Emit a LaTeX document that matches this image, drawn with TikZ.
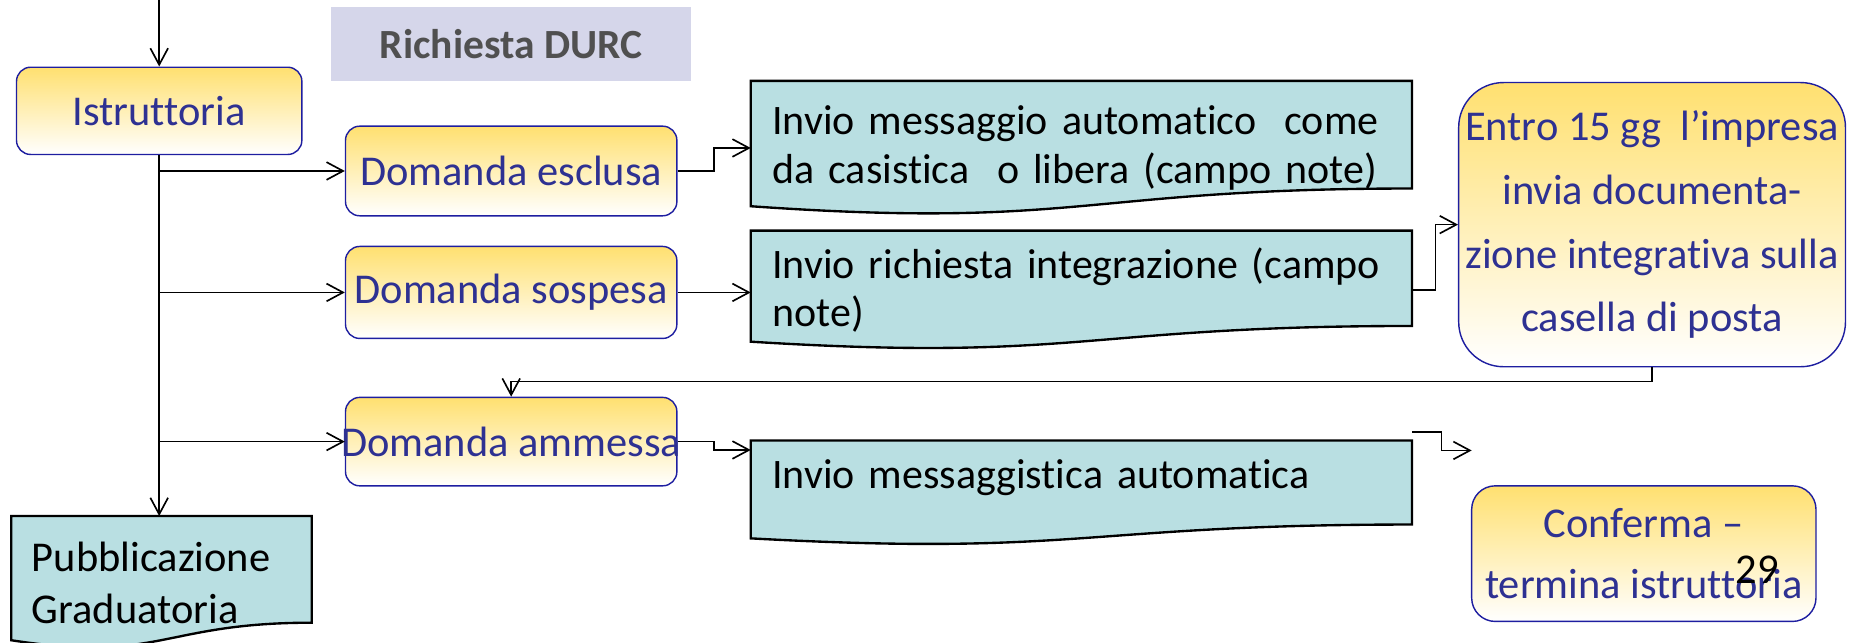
\documentclass[tikz,border=0pt]{standalone}
\usepackage{fontspec}
\setmainfont{Carlito}[Ligatures={NoCommon}]
\usetikzlibrary{arrows.meta,calc,backgrounds}
\definecolor{ytop}{RGB}{255,224,112}
\definecolor{bborder}{RGB}{30,30,160}
\definecolor{btext}{RGB}{46,49,146}
\definecolor{docfill}{RGB}{185,223,226}
\definecolor{lav}{RGB}{213,214,234}
\definecolor{gtext}{RGB}{80,80,80}
\begin{document}
\begin{tikzpicture}[x=0.5pt,y=-0.5pt,
  ybox/.style={draw=bborder, line width=0.6pt, top color=ytop, bottom color=white,
    rounded corners=6pt, text=btext, font=\fontsize{18}{22}\selectfont, align=center, inner sep=0pt},
  docnode/.style={inner xsep=9pt, inner ysep=0pt, align=left, font=\fontsize{17.8}{20.5}\selectfont},
  docshape/.style={draw=black, line width=1pt, fill=docfill},
  conn/.style={line width=0.7pt, draw=black},
  arr/.style={conn, -{Straight Barb[length=7pt,width=7.5pt]}},
]
\useasboundingbox (0,0) rectangle (1568,545);

% yellow process boxes
\node[ybox, minimum width=121pt, minimum height=37pt] (istr) at (135,94) {Istruttoria};
\node[fill=lav, minimum width=152.5pt, minimum height=31.5pt, inner sep=0pt, text=gtext,
  font=\bfseries\fontsize{17.6}{20}\selectfont] (durc) at (433.5,37.5) {Richiesta DURC};
\node[ybox, minimum width=140.5pt, minimum height=38pt] (esc) at (433.5,145) {Domanda esclusa};
\node[ybox, minimum width=140.5pt, minimum height=39pt] (sosp) at (433.5,248) {Domanda sospesa};
\node[ybox, minimum width=140.5pt, minimum height=37.5pt] (amm) at (433.5,374.5) {\makebox[130pt]{Domanda ammessa}};
\node[ybox, rounded corners=19pt, minimum width=164pt, minimum height=120.5pt,
  font=\fontsize{18}{27}\selectfont] (entro) at (1401,190.5)
  {Entro 15 gg\ \ l’impresa\\invia documenta-\\zione integrativa sulla\\casella di posta};
\node[ybox, rounded corners=10pt, minimum width=146pt, minimum height=57.5pt,
  font=\fontsize{18}{26}\selectfont] (conf) at (1394,469.5) {Conferma –\\termina istruttoria};

% document boxes
\node[docnode, text width=262pt, minimum height=56.5pt] (boxA) at (917,125.5)
  {Invio messaggio automatico\ \ come\\da casistica\ \ o libera (campo note)};
\node[docnode, text width=262pt, minimum height=50pt] (boxB) at (917,246)
  {Invio richiesta integrazione (campo\\note)};
\node[docnode, text width=262pt, minimum height=44pt, text depth=16pt] (boxC) at (917,418)
  {Invio messaggistica automatica};
\node[docnode, inner xsep=8.5pt, text width=110pt, minimum height=56pt,
  font=\fontsize{18}{22}\selectfont] (pub) at (137,494) {Pubblicazione\\Graduatoria};

\begin{pgfonlayer}{background}
\foreach \n in {boxA,boxB,boxC,pub}{
  \path[docshape] (\n.north west) -- (\n.north east)
    -- ($(\n.north east)!0.802!(\n.south east)$)
    .. controls ($(\n.north)!0.802!(\n.south)$) and ($(\n.north)!1.107!(\n.south)$)
    .. ($(\n.north west)!0.934!(\n.south west)$) -- cycle;
}
\end{pgfonlayer}

% page number
\node[font=\fontsize{18}{20}\selectfont, inner sep=0pt] (pg) at (1490,483) {29};

% connectors
\coordinate (topin) at (135,0);
\draw[arr] (topin) -- (istr.north);
\draw[arr] (istr.south) -- (istr.south |- pub.north);
\draw[arr] (istr.south |- esc.west) -- (esc.west);
\draw[arr] (istr.south |- sosp.west) -- (sosp.west);
\draw[arr] (istr.south |- amm.west) -- (amm.west);
\draw[arr] (esc.east) -- ++(31,0) |- (boxA.west);
\draw[arr] (sosp.east) -- (sosp.east -| boxB.west);
\draw[arr] (boxB.east) -- ++(20,0) |- (entro.west);
\draw[arr] (entro.south) -- ++(0,12) -| (amm.north);
\draw[arr] (amm.east) -- ++(31,0) |- ($(boxC.north west)+(0,8)$);
\coordinate (cend) at (1248,382);
\draw[arr] ($(boxC.north east)+(0,-7)$) -- ++(25,0) |- (cend);
\end{tikzpicture}
\end{document}
